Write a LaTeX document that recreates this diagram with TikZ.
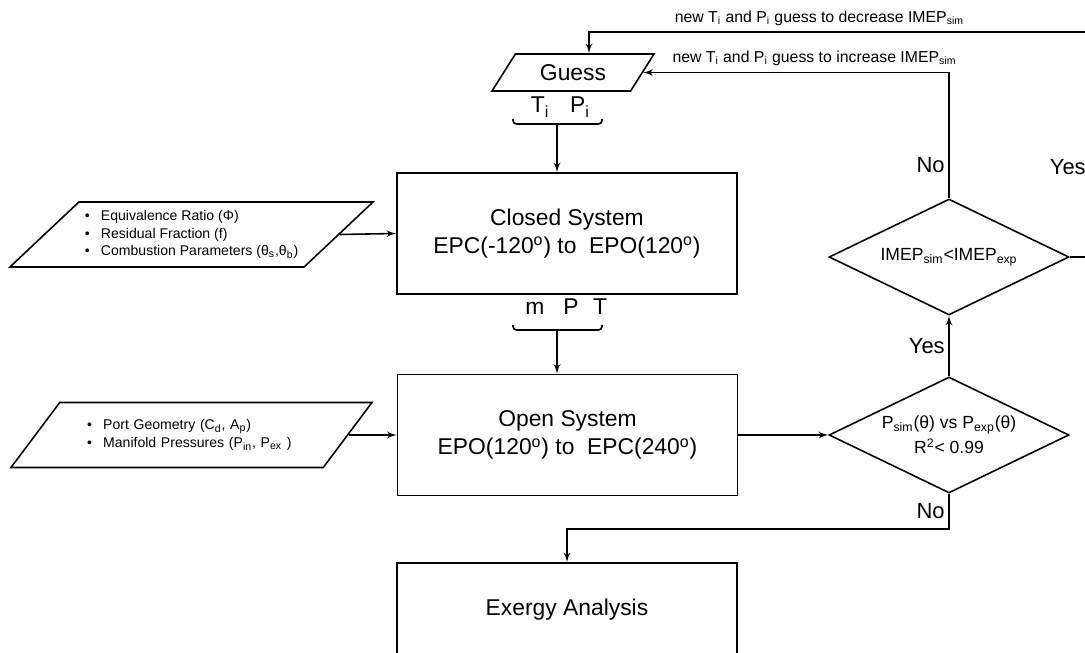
\documentclass[tikz,border=0pt]{standalone}
\usepackage{fontspec}
\setmainfont{Liberation Sans}
\usetikzlibrary{shapes,arrows,positioning,calc}

\newcommand{\blt}{\textbullet\hspace{0.8em}}

\begin{document}
\begin{tikzpicture}[
        block/.style = {rectangle, draw, line width=0.9pt, minimum width=6.8cm, minimum height=2.42cm, align=center, font=\fontsize{13}{16}\selectfont},
        guessbox/.style = {trapezium, draw, line width=0.9pt, trapezium left angle=50, trapezium right angle=130, trapezium stretches body, minimum width=3.24cm, minimum height=0.74cm, font=\fontsize{13}{16}\selectfont},
        inputbox/.style = {trapezium, draw, line width=0.9pt, trapezium left angle=41, trapezium right angle=139, trapezium stretches body, minimum width=7.22cm, minimum height=1.3cm, align=left, font=\fontsize{8}{10}\selectfont},
        decision/.style = {diamond, draw, line width=0.9pt, aspect=2, inner sep=0pt, minimum width=4.8cm, minimum height=2.32cm, align=center, font=\fontsize{10}{14}\selectfont},
        varlabel/.style = {anchor=base, inner sep=0pt, font=\fontsize{13}{16}\selectfont},
        answer/.style = {inner sep=2pt, font=\fontsize{12.5}{15}\selectfont},
        note/.style = {font=\fontsize{9}{11}\selectfont},
        brace/.style = {draw, line width=0.9pt, rounded corners=2pt},
        line/.style = {draw, line width=0.9pt, -latex'}
    ]

        \useasboundingbox (0,0) rectangle (21.7,-13.06);
        \clip (0,0) rectangle (21.7,-13.06);

        % Place nodes
        \node [guessbox] at (11.46,-1.45) (guess) {Guess};
        \node [varlabel] at (10.8,-2.26) (ti) {T\textsubscript{i}};
        \node [varlabel] at (11.6,-2.26) (pi) {P\textsubscript{i}};
        \coordinate (guessbl) at (10.26,-2.38);
        \coordinate (guessbm) at (11.14,-2.48);
        \coordinate (guessbr) at (12.04,-2.38);

        \node [block] at (11.34,-4.67) (closed) {Closed System\\ EPC(-120\textsuperscript{o}) to~ EPO(120\textsuperscript{o})};
        \node [inputbox] at (3.83,-4.69) (mixture) {\blt Equivalence Ratio (Φ)\\ \blt Residual Fraction (f)\\ \blt Combustion Parameters (θ\textsubscript{s},θ\textsubscript{b})};

        \node [varlabel] at (10.7,-6.3) (mass) {m};
        \node [varlabel] at (11.42,-6.3) (press) {P};
        \node [varlabel] at (12.0,-6.3) (temp) {T};
        \coordinate (statebl) at (10.26,-6.5);
        \coordinate (statebm) at (11.14,-6.6);
        \coordinate (statebr) at (12.04,-6.5);

        \node [block] at (11.35,-8.7) (open) {Open System\\ EPO(120\textsuperscript{o}) to~ EPC(240\textsuperscript{o})};
        \node [inputbox, text width=4.18cm] at (3.83,-8.7) (ports) {\blt Port Geometry (C\textsubscript{d}, A\textsubscript{p})\\ \blt Manifold Pressures (P\textsubscript{in}, P\textsubscript{ex} )};

        \node [block, minimum height=1.88cm] at (11.34,-12.2) (exergy) {Exergy Analysis};

        \node [decision] at (18.98,-8.7) (fit) {P\textsubscript{sim}(θ) vs P\textsubscript{exp}(θ)\\ R\textsuperscript{2}< 0.99};
        \node [decision] at (18.98,-5.14) (imep) {IMEP\textsubscript{sim}<IMEP\textsubscript{exp}};

        \coordinate (rturn) at (21.8,-5.14);
        \coordinate (dectop) at (11.78,-0.64);

        % Draw edges
        \draw [brace] (guessbl) |- (guessbm) -| (guessbr);
        \draw [line] (guessbm) -- (guessbm |- closed.north);
        \draw [line] (mixture.east) -- (closed.west);
        \draw [brace] (statebl) |- (statebm) -| (statebr);
        \draw [line] (statebm) -- (statebm |- open.north);
        \draw [line] (ports.east) -- (open.west);
        \draw [line] (open.east) -- (fit.west);
        \draw [line] (fit.north) -- node[answer,left] {Yes} (imep.south);
        \draw [line] (fit.south) -- node[answer,left] {No} ++(0,-0.7) -| (exergy.north);
        \draw [line] (imep.north) |- node[answer,left,pos=0.13] {No} node[note,above,pos=0.72] {new T\textsubscript{i} and P\textsubscript{i} guess to increase IMEP\textsubscript{sim}} (guess.east);
        \draw [line] (imep.east) -- (rturn) |- node[answer,left,pos=0.2] {Yes} node[note,above,pos=0.77] {new T\textsubscript{i} and P\textsubscript{i} guess to decrease IMEP\textsubscript{sim}} (dectop) -- (dectop |- guess.north);

    \end{tikzpicture}
\end{document}
